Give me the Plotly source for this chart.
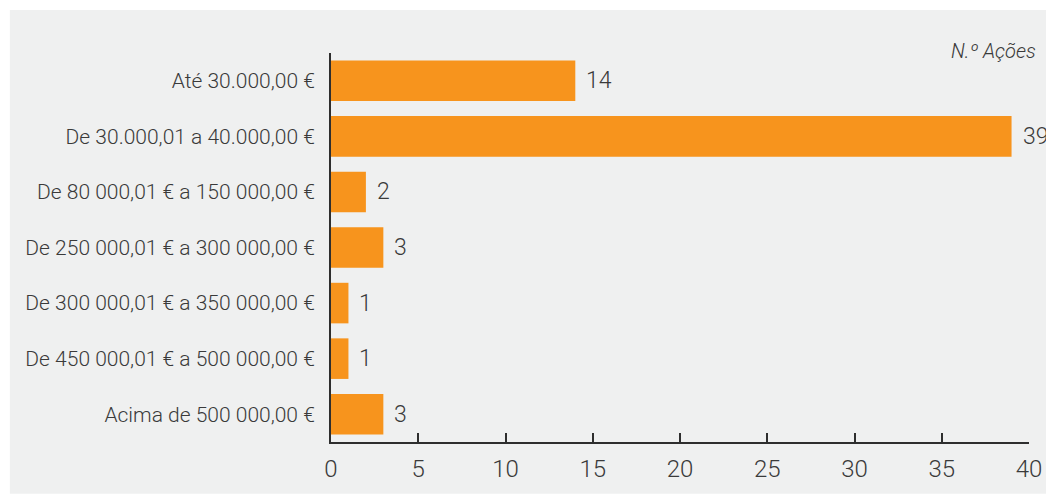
import plotly.graph_objects as go

categories = [
    "Até 30.000,00 €",
    "De 30.000,01 a 40.000,00 €",
    "De 80 000,01 € a 150 000,00 €",
    "De 250 000,01 € a 300 000,00 €",
    "De 300 000,01 € a 350 000,00 €",
    "De 450 000,01 € a 500 000,00 €",
    "Acima de 500 000,00 €",
]
values = [14, 39, 2, 3, 1, 1, 3]
x_ticks = [0, 5, 10, 15, 20, 25, 30, 35, 40]
unit_label = "N.º Ações"

# page body has an 8px margin, so the figure starts at (8, 8)
W, H = 1046, 487
ML, MR, MT, MB = 323, 21, 45, 52
PW, PH = W - ML - MR, H - MT - MB

BG = "#eff0f0"
ORANGE = "#f7941d"
TXT = "#3a3a3a"
AX = "#2e2e2e"

fig = go.Figure(
    go.Bar(
        x=values,
        y=categories,
        orientation="h",
        marker=dict(color=ORANGE, line=dict(width=0)),
        hoverinfo="skip",
    )
)

for v, c in zip(values, categories):
    fig.add_annotation(
        x=v, y=c, xref="x", yref="y", text=str(v), showarrow=False,
        xanchor="left", yanchor="middle", xshift=9,
        font=dict(family="Roboto", size=23, color=TXT, weight=300),
    )

fig.add_annotation(
    x=1, y=1, xref="paper", yref="paper", text=unit_label, showarrow=False,
    xanchor="right", yanchor="middle", xshift=9, yshift=2,
    font=dict(family="Roboto", size=20, color=TXT, style="italic", weight=300),
)

fig.add_shape(
    type="rect", xref="paper", yref="paper", layer="below",
    x0=(0 - ML) / PW, x1=(W - ML) / PW,
    y0=(H - MB - H) / PH, y1=(H - MB - 2) / PH,
    fillcolor=BG, line=dict(width=0),
)

fig.update_layout(
    width=W, height=H,
    margin=dict(l=ML, r=MR, t=MT, b=MB, pad=0),
    paper_bgcolor="white",
    plot_bgcolor=BG,
    bargap=0.27,
    showlegend=False,
    font=dict(family="Roboto", color=TXT),
)

fig.update_xaxes(
    range=[0, 40], tickvals=x_ticks, ticktext=[str(t) for t in x_ticks],
    showgrid=False, zeroline=False,
    showline=True, linecolor=AX, linewidth=2,
    ticks="inside", ticklen=9, tickwidth=2, tickcolor=AX,
    tickfont=dict(family="Roboto", size=24, color=TXT, weight=300),
    ticklabelstandoff=4,
)
fig.update_yaxes(
    autorange="reversed",
    showgrid=False, zeroline=False,
    showline=True, linecolor=AX, linewidth=2,
    ticks="", ticklabelstandoff=10,
    tickfont=dict(family="Roboto", size=21, color=TXT, weight=300),
)

fig.write_html("out.html")
